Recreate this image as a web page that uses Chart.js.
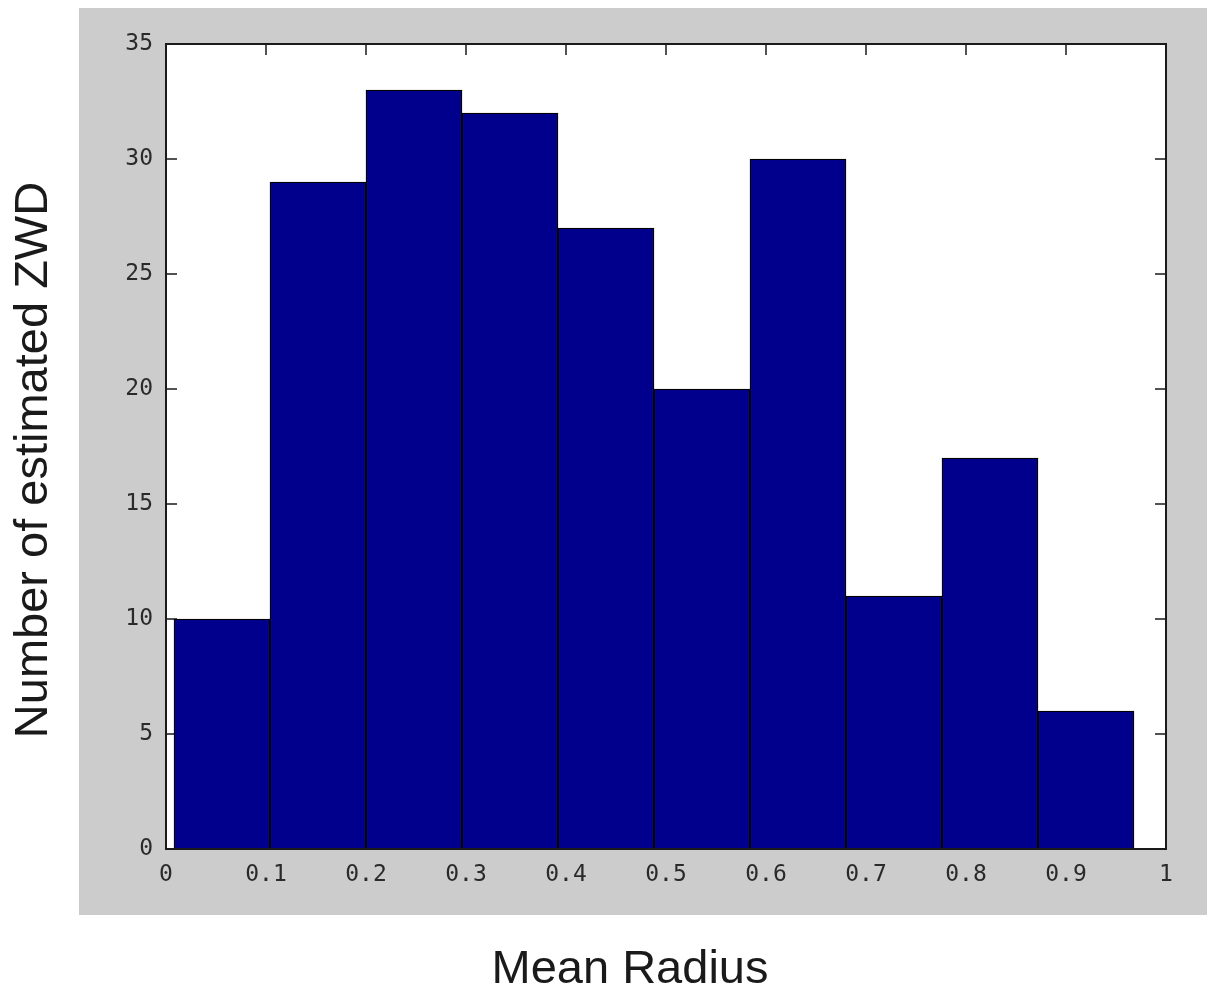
<!DOCTYPE html>
<html>
<head>
<meta charset="utf-8">
<title>Mean Radius histogram</title>
<script src="https://cdn.jsdelivr.net/npm/chart.js@4.4.1/dist/chart.umd.min.js"></script>
<style>
  html, body { margin: 0; padding: 0; background: #fff; }
  canvas { display: block; }
</style>
</head>
<body>
<canvas id="hist" width="1207" height="988"></canvas>
<script>
// ---- Histogram data ----
const binCenters = [0.056, 0.152, 0.248, 0.344, 0.440, 0.536, 0.632, 0.728, 0.824, 0.920];
const counts = [10, 29, 33, 32, 27, 20, 30, 11, 17, 6];
const xTicks = [0, 0.1, 0.2, 0.3, 0.4, 0.5, 0.6, 0.7, 0.8, 0.9, 1];
const yTicks = [0, 5, 10, 15, 20, 25, 30, 35];

const BAR_COLOR = '#00008c';
const INK = '#1a1a1a';
const tickFont = { family: '"DejaVu Sans Mono", "Liberation Mono", monospace', size: 23 };
const TICK_LEN = 11;

// gray figure background, white axes box, inward ticks, frame and titles
const axesDecor = {
  id: 'axesDecor',
  beforeDraw(chart) {
    const { ctx, chartArea: a } = chart;
    ctx.save();
    ctx.fillStyle = '#cccccc';
    ctx.fillRect(79, 8, 1128, 907);
    ctx.fillStyle = '#ffffff';
    ctx.fillRect(a.left, a.top, a.right - a.left, a.bottom - a.top);
    ctx.restore();
  },
  beforeDatasetsDraw(chart) {
    const { ctx, chartArea: a, scales } = chart;
    ctx.save();
    ctx.strokeStyle = INK;
    ctx.lineWidth = 1.5;
    ctx.beginPath();
    xTicks.forEach(v => {
      const px = scales.x.getPixelForValue(v);
      ctx.moveTo(px, a.bottom); ctx.lineTo(px, a.bottom - TICK_LEN);
      ctx.moveTo(px, a.top); ctx.lineTo(px, a.top + TICK_LEN);
    });
    yTicks.forEach(v => {
      const py = scales.y.getPixelForValue(v);
      ctx.moveTo(a.left, py); ctx.lineTo(a.left + TICK_LEN, py);
      ctx.moveTo(a.right, py); ctx.lineTo(a.right - TICK_LEN, py);
    });
    ctx.stroke();
    ctx.restore();
  },
  afterDatasetsDraw(chart) {
    const { ctx, chartArea: a } = chart;
    ctx.save();
    ctx.strokeStyle = INK;
    ctx.lineWidth = 2;
    ctx.strokeRect(a.left, a.top, a.right - a.left, a.bottom - a.top);
    ctx.restore();
  },
  afterDraw(chart) {
    const { ctx } = chart;
    ctx.save();
    ctx.fillStyle = INK;
    ctx.font = '47px "Liberation Sans", Arial, sans-serif';
    ctx.textAlign = 'center';
    ctx.textBaseline = 'alphabetic';
    ctx.fillText('Mean Radius', 630, 983);
    ctx.translate(47, 460);
    ctx.rotate(-Math.PI / 2);
    ctx.fillText('Number of estimated ZWD', 0, 0);
    ctx.restore();
  }
};

new Chart(document.getElementById('hist'), {
  type: 'bar',
  data: {
    datasets: [{
      data: binCenters.map((x, i) => ({ x, y: counts[i] })),
      backgroundColor: BAR_COLOR,
      borderColor: '#000000',
      borderWidth: 1.4,
      borderSkipped: false,
      barPercentage: 1,
      categoryPercentage: 1
    }]
  },
  options: {
    responsive: false,
    animation: false,
    layout: { padding: { top: 44, right: 41, left: 0, bottom: 0 } },
    plugins: {
      legend: { display: false },
      tooltip: { enabled: false }
    },
    scales: {
      x: {
        type: 'linear',
        min: 0,
        max: 1,
        offset: false,
        grid: { display: false, drawTicks: false, offset: false },
        border: { display: false },
        afterBuildTicks: s => { s.ticks = xTicks.map(v => ({ value: v })); },
        afterFit: s => { s.height = 139; },
        ticks: {
          font: tickFont,
          color: '#2a2a2a',
          padding: 12,
          maxRotation: 0,
          autoSkip: false,
          callback: v => String(v)
        }
      },
      y: {
        min: 0,
        max: 35,
        grid: { display: false, drawTicks: false },
        border: { display: false },
        afterBuildTicks: s => { s.ticks = yTicks.map(v => ({ value: v })); },
        afterFit: s => { s.width = 166; },
        ticks: {
          font: tickFont,
          color: '#2a2a2a',
          padding: 13,
          autoSkip: false,
          callback: v => String(v)
        }
      }
    }
  },
  plugins: [axesDecor]
});
</script>
</body>
</html>
